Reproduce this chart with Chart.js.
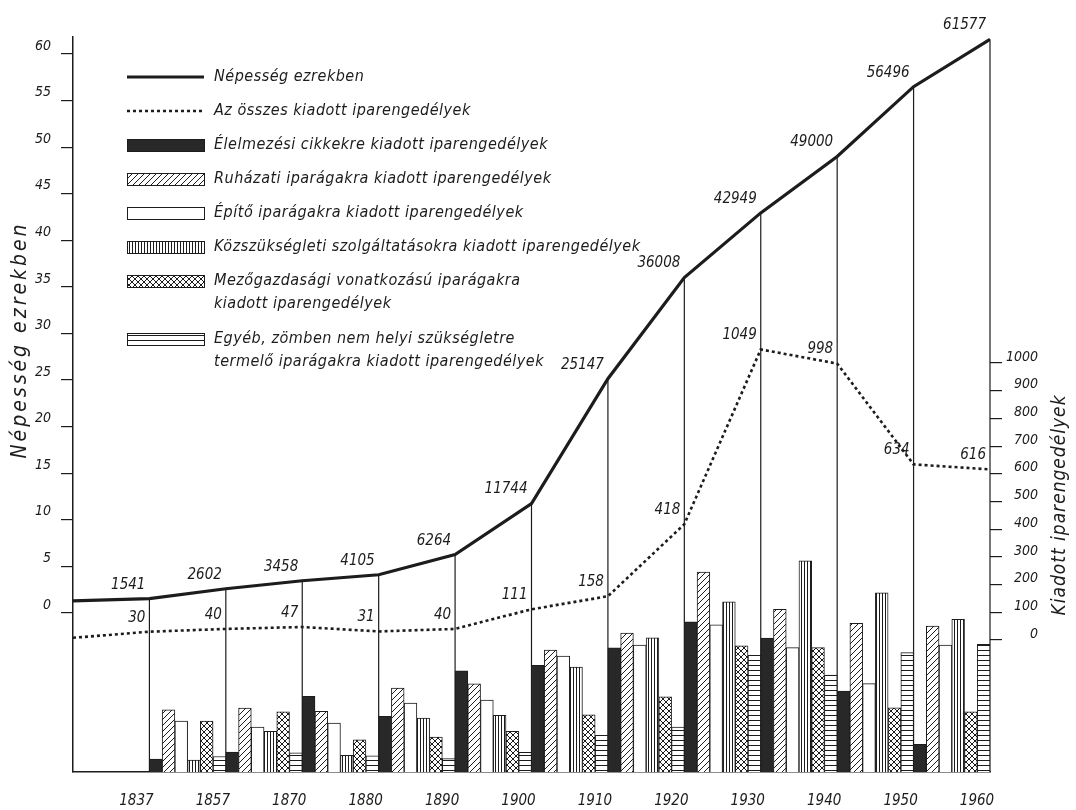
<!DOCTYPE html>
<html>
<head>
<meta charset="utf-8">
<script src="https://cdn.jsdelivr.net/npm/chart.js@4.4.0/dist/chart.umd.min.js"></script>
<style>
  html, body { margin: 0; padding: 0; background: #fff; }
  #wrap { width: 1076px; height: 810px; }
</style>
</head>
<body>
<div id="wrap"><canvas id="chart"></canvas></div>
<script>
// Census years (drop lines) and their values
const years = ['1837', '1857', '1870', '1880', '1890', '1900', '1910', '1920', '1930', '1940', '1950', '1960'];
const population = [1541, 2602, 3458, 4105, 6264, 11744, 25147, 36008, 42949, 49000, 56496, 61577];
const populationStart = 1300;   // where the line meets the left axis
const permits = [30, 40, 47, 31, 40, 111, 158, 418, 1049, 998, 634, 616];
const permitsStart = 8;

// Bars for each period between census years (1837-57 ... 1950-60), relative heights
const foodBars     = [47, 72, 273, 201, 365, 385, 448, 542, 483, 292, 100];
const clothingBars = [224, 231, 219, 303, 318, 440, 501, 722, 587, 537, 527];
const buildingBars = [184, 162, 177, 249, 260, 418, 458, 531, 449, 319, 458];
const servicesBars = [43, 147, 60, 195, 205, 379, 484, 614, 762, 647, 551];
const farmingBars  = [184, 217, 116, 126, 147, 206, 271, 455, 449, 232, 217];
const otherBars    = [56, 69, 58, 48, 71, 132, 162, 421, 350, 431, 461];

const popTicks = [0, 5, 10, 15, 20, 25, 30, 35, 40, 45, 50, 55, 60];
const permitTicks = [0, 100, 200, 300, 400, 500, 600, 700, 800, 900, 1000];

const INK = '#1c1c1c';
const FONT = '"DejaVu Sans Condensed", "DejaVu Sans", sans-serif';

// hatch patterns
function makePattern(w, h, draw) {
    const c = document.createElement('canvas');
    c.width = w; c.height = h;
    const g = c.getContext('2d');
    g.fillStyle = '#fff';
    g.fillRect(0, 0, w, h);
    g.strokeStyle = INK;
    g.lineWidth = 1;
    draw(g, w, h);
    return g.createPattern(c, 'repeat');
}
function diag(g, s) {
    g.beginPath();
    g.moveTo(0, s); g.lineTo(s, 0);
    g.moveTo(-1, 1); g.lineTo(1, -1);
    g.moveTo(s - 1, s + 1); g.lineTo(s + 1, s - 1);
    g.stroke();
}
const hatchPattern = makePattern(6, 6, (g) => diag(g, 6));
const crossPattern = makePattern(6, 6, (g) => {
    diag(g, 6);
    g.beginPath();
    g.moveTo(0, 0); g.lineTo(6, 6);
    g.moveTo(-1, 5); g.lineTo(1, 7);
    g.moveTo(5, -1); g.lineTo(7, 1);
    g.stroke();
});
const vertPattern = makePattern(3, 4, (g) => {
    g.beginPath(); g.moveTo(0.5, 0); g.lineTo(0.5, 4); g.stroke();
});
const horizPattern = makePattern(4, 5, (g) => {
    g.beginPath(); g.moveTo(0, 0.5); g.lineTo(4, 0.5); g.stroke();
});

function periodBars(values) {
    return values.map((v, i) => ({ x: i + 1.5, y: v }));
}
function yearPoints(values, start, scale) {
    return [{ x: 0, y: start / scale }].concat(values.map((v, i) => ({ x: i + 1, y: v / scale })));
}

function barSet(label, values, fill) {
    return {
        type: 'bar',
        label: label,
        data: periodBars(values),
        yAxisID: 'yBars',
        backgroundColor: fill,
        borderColor: INK,
        borderWidth: 1,
        borderSkipped: 'bottom',
        categoryPercentage: 1,
        barPercentage: 1,
        order: 2
    };
}

const datasets = [
    {
        type: 'line',
        label: 'Népesség ezrekben',
        data: yearPoints(population, populationStart, 1000),
        yAxisID: 'yPop',
        borderColor: INK,
        borderWidth: 3.2,
        pointRadius: 0,
        tension: 0,
        order: 0
    },
    {
        type: 'line',
        label: 'Az összes kiadott iparengedélyek',
        data: yearPoints(permits, permitsStart, 1),
        yAxisID: 'yPermit',
        borderColor: INK,
        borderWidth: 2.6,
        borderDash: [3, 3],
        pointRadius: 0,
        tension: 0,
        order: 0
    },
    barSet('Élelmezési cikkekre kiadott iparengedélyek', foodBars, '#282828'),
    barSet('Ruházati iparágakra kiadott iparengedélyek', clothingBars, hatchPattern),
    barSet('Építő iparágakra kiadott iparengedélyek', buildingBars, '#ffffff'),
    barSet('Közszükségleti szolgáltatásokra kiadott iparengedélyek', servicesBars, vertPattern),
    barSet('Mezőgazdasági vonatkozású iparágakra\nkiadott iparengedélyek', farmingBars, crossPattern),
    barSet('Egyéb, zömben nem helyi szükségletre\ntermelő iparágakra kiadott iparengedélyek', otherBars, horizPattern)
];

// vertical lines from each population point down to the base line
const dropLines = {
    id: 'dropLines',
    beforeDatasetsDraw(chart) {
        const ctx = chart.ctx;
        const bottom = chart.chartArea.bottom;
        const meta = chart.getDatasetMeta(0);
        ctx.save();
        ctx.strokeStyle = INK;
        ctx.lineWidth = 1.2;
        meta.data.forEach((pt, i) => {
            if (i === 0) return;
            ctx.beginPath();
            ctx.moveTo(pt.x, pt.y);
            ctx.lineTo(pt.x, bottom);
            ctx.stroke();
        });
        ctx.restore();
    }
};

// numbers written next to the points
const pointLabels = {
    id: 'pointLabels',
    afterDatasetsDraw(chart) {
        const ctx = chart.ctx;
        ctx.save();
        ctx.fillStyle = INK;
        ctx.font = 'italic 15px ' + FONT;
        ctx.textAlign = 'right';
        ctx.textBaseline = 'middle';
        [[0, population], [1, permits]].forEach(([idx, values]) => {
            const meta = chart.getDatasetMeta(idx);
            values.forEach((v, i) => {
                const pt = meta.data[i + 1];
                ctx.fillText(String(v), pt.x - 4, pt.y - 14);
            });
        });
        ctx.restore();
    }
};

// legend drawn in the upper left corner of the plot
const drawnLegend = {
    id: 'drawnLegend',
    afterDraw(chart) {
        const ctx = chart.ctx;
        const x0 = 127, w = 77, textX = 214;
        let y = 77;
        ctx.save();
        ctx.font = 'italic 16px ' + FONT;
        ctx.letterSpacing = '0.5px';
        ctx.textBaseline = 'middle';
        ctx.textAlign = 'left';
        chart.data.datasets.forEach((ds) => {
            const lines = ds.label.split('\n');
            ctx.strokeStyle = INK;
            if (ds.type === 'line') {
                ctx.lineWidth = ds.borderWidth;
                ctx.setLineDash(ds.borderDash || []);
                ctx.beginPath();
                ctx.moveTo(x0, y);
                ctx.lineTo(x0 + w, y);
                ctx.stroke();
                ctx.setLineDash([]);
            } else {
                ctx.fillStyle = ds.backgroundColor;
                ctx.fillRect(x0, y - 6, w, 12);
                ctx.lineWidth = 1;
                ctx.strokeRect(x0 + 0.5, y - 5.5, w, 12);
            }
            ctx.fillStyle = INK;
            lines.forEach((t, k) => ctx.fillText(t, textX, y + k * 23));
            y += 34 + (lines.length - 1) * 24;
        });
        ctx.restore();
    }
};

// axis titles, both reading upwards
const axisTitles = {
    id: 'axisTitles',
    afterDraw(chart) {
        const ctx = chart.ctx;
        ctx.save();
        ctx.fillStyle = INK;
        ctx.textAlign = 'center';
        ctx.textBaseline = 'middle';
        [['Népesség ezrekben', 21, 340, 21, '3px'], ['Kiadott iparengedélyek', 1060, 505, 19, '1px']].forEach(([t, x, y, size, sp]) => {
            ctx.save();
            ctx.font = 'italic ' + size + 'px ' + FONT;
            ctx.letterSpacing = sp;
            ctx.translate(x, y);
            ctx.rotate(-Math.PI / 2);
            ctx.fillText(t, 0, 0);
            ctx.restore();
        });
        ctx.restore();
    }
};

const tickFont = { family: FONT, size: 14, style: 'italic' };

new Chart(document.getElementById('chart'), {
    type: 'bar',
    data: { datasets: datasets },
    options: {
        responsive: true,
        maintainAspectRatio: false,
        animation: false,
        layout: { padding: { top: 37, left: 0, right: 38, bottom: 0 } },
        plugins: {
            legend: { display: false },
            tooltip: { enabled: false }
        },
        scales: {
            x: {
                type: 'linear',
                min: 0,
                max: 12,
                offset: false,
                grid: { display: false },
                border: { display: true, color: INK, width: 1.5 },
                afterBuildTicks: (s) => { s.ticks = years.map((y, i) => ({ value: i + 1 })); },
                ticks: {
                    callback: (v) => years[v - 1],
                    labelOffset: -13,
                    padding: 12,
                    maxRotation: 0,
                    autoSkip: false,
                    color: INK,
                    font: { family: FONT, size: 15, style: 'italic' }
                },
                afterFit: (s) => { s.height = 38; }
            },
            yPop: {
                position: 'left',
                min: -17.07,
                max: 61.83,
                afterBuildTicks: (s) => { s.ticks = popTicks.map(v => ({ value: v })); },
                grid: { drawOnChartArea: false, tickLength: 12, color: INK, lineWidth: 1.2 },
                border: { display: true, color: INK, width: 1.5 },
                ticks: { padding: 10, labelOffset: -8, color: INK, font: tickFont },
                afterFit: (s) => { s.width = 73; }
            },
            yPermit: {
                position: 'right',
                min: -476.5,
                max: 2177,
                afterBuildTicks: (s) => { s.ticks = permitTicks.map(v => ({ value: v })); },
                grid: { drawOnChartArea: false, tickLength: 12, color: INK, lineWidth: 1.2 },
                border: { display: false },
                ticks: {
                    crossAlign: 'far',
                    padding: 5,
                    labelOffset: -6,
                    color: INK,
                    font: tickFont,
                    callback: (v) => String(v)
                },
                afterFit: (s) => { s.width = 48; }
            },
            yBars: {
                display: false,
                min: 0,
                max: 2653
            }
        }
    },
    plugins: [dropLines, pointLabels, drawnLegend, axisTitles]
});
</script>
</body>
</html>
